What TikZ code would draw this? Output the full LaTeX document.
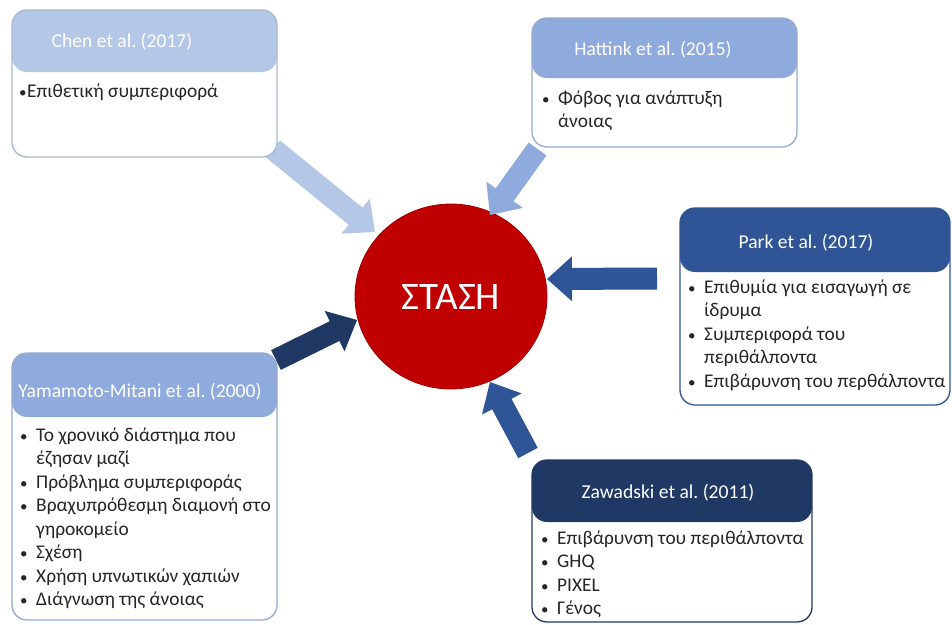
\documentclass[tikz,border=0pt]{standalone}
\usepackage{fontspec}
\setmainfont{Carlito}
\frenchspacing
\usetikzlibrary{calc,shapes.geometric}
\definecolor{cA}{HTML}{B4C7E7}
\definecolor{cB}{HTML}{8FAADC}
\definecolor{cC}{HTML}{2F5597}
\definecolor{cD}{HTML}{203864}
\definecolor{cRed}{HTML}{C00000}
\definecolor{cRedD}{HTML}{A00000}
\definecolor{txt}{HTML}{262626}
\definecolor{bordA}{HTML}{A8B8D2}
\definecolor{bordB}{HTML}{95A9CC}
\newcommand{\bdot}{{\fontsize{15}{15}\selectfont •}}
\newcommand{\bul}{\makebox[17pt][l]{\hspace*{1pt}\bdot}}
\newcommand{\ind}{\hspace*{17pt}}
\newcommand{\blockarrow}[3]{%
  \coordinate (#2-h) at ($(#3)!25pt!(#2)$);
  \fill[#1] ($(#2)!11pt!90:(#3)$) -- ($(#2-h)!11pt!90:(#3)$) -- ($(#2-h)!22.5pt!90:(#3)$) -- (#3)
    -- ($(#2-h)!22.5pt!-90:(#3)$) -- ($(#2-h)!11pt!-90:(#3)$) -- ($(#2)!11pt!-90:(#3)$) -- cycle;}
\tikzset{
  card/.style n args={3}{draw=#2, line width=1.3pt, rounded corners=15pt, fill=white, inner sep=0pt,
    path picture={\fill[#1] (path picture bounding box.north west) rectangle ([yshift=-#3]path picture bounding box.north east);}},
  hdrtext/.style={text=white, inner sep=0pt, font=\fontsize{19.6}{23}\selectfont},
  bodytext/.style={text=txt, inner sep=0pt, anchor=north west, align=left, font=\fontsize{19.4}{23.5}\selectfont},
}
\begin{document}
\begin{tikzpicture}[x=1pt,y=-1pt]
\path[use as bounding box] (0,0) rectangle (952,624);
\fill[white] (0,0) rectangle (952,624);

% centre
\node[ellipse, fill=cRed, draw=cRedD, line width=0.8pt, minimum width=192pt, minimum height=185pt,
      inner sep=0pt, text=white, font=\fontsize{39}{46}\selectfont] (stasi) at (451,296.5) {ΣΤΑΣΗ};

% arrow end points
\coordinate (chenT) at (273,149);   \coordinate (chenP) at (375,232);
\coordinate (hatT) at (537.5,149);  \coordinate (hatP) at (490,215);
\coordinate (parkT) at (657,278.5); \coordinate (parkP) at (547,279);
\coordinate (yamT) at (276,360);    \coordinate (yamP) at (357,320);
\coordinate (zawT) at (528,453);    \coordinate (zawP) at (490,382);

\blockarrow{cA}{chenT}{chenP}
\blockarrow{cB}{hatT}{hatP}
\blockarrow{cC}{parkT}{parkP}
\blockarrow{cD}{yamT}{yamP}
\blockarrow{cC}{zawT}{zawP}

% boxes
\node[card={cA}{bordA}{62pt}, minimum width=265pt, minimum height=147pt] (chen) at (144.5,83.5) {};
\node[card={cB}{bordB}{60pt}, minimum width=265pt, minimum height=129pt] (hat) at (664.5,82.5) {};
\node[card={cC}{cC}{64pt}, minimum width=270pt, minimum height=197pt] (park) at (815,306.5) {};
\node[card={cB}{bordB}{64pt}, minimum width=265pt, minimum height=267pt] (yam) at (144.5,486.5) {};
\node[card={cD}{cD}{62pt}, minimum width=280pt, minimum height=162pt] (zaw) at (672,541) {};

% headers
\node[hdrtext] (chenH) at (122,42) {Chen et al. (2017)};
\node[hdrtext] (hatH) at (653,50) {Hattink et al. (2015)};
\node[hdrtext] (parkH) at (806,243) {Park et al. (2017)};
\node[hdrtext] (yamH) at (140,392) {Yamamoto-Mitani et al. (2000)};
\node[hdrtext] (zawH) at (668,493) {Zawadski et al. (2011)};

% bodies
\node[bodytext] (chenB) at (19,80.7) {\strut\makebox[8pt][l]{\bdot}Επιθετική συμπεριφορά};
\node[bodytext] (hatB) at (541,87.7) {\strut\bul Φόβος για ανάπτυξη\\ \ind άνοιας};
\node[bodytext] (parkB) at (687,276.7) {\strut\bul Επιθυμία για εισαγωγή σε\\ \ind ίδρυμα\\ \bul Συμπεριφορά του\\ \ind περιθάλποντα\\ \bul Επιβάρυνση του περθάλποντα};
\node[bodytext] (yamB) at (19,424.7) {\strut\bul Το χρονικό διάστημα που\\ \ind έζησαν μαζί\\ \bul Πρόβλημα συμπεριφοράς\\ \bul Βραχυπρόθεσμη διαμονή στο\\ \ind γηροκομείο\\ \bul Σχέση\\ \bul Χρήση υπνωτικών χαπιών\\ \bul Διάγνωση της άνοιας};
\node[bodytext] (zawB) at (540,527.7) {\strut\bul Επιβάρυνση του περιθάλποντα\\ \bul GHQ\\ \bul PIXEL\\ \bul Γένος};
\end{tikzpicture}
\end{document}
